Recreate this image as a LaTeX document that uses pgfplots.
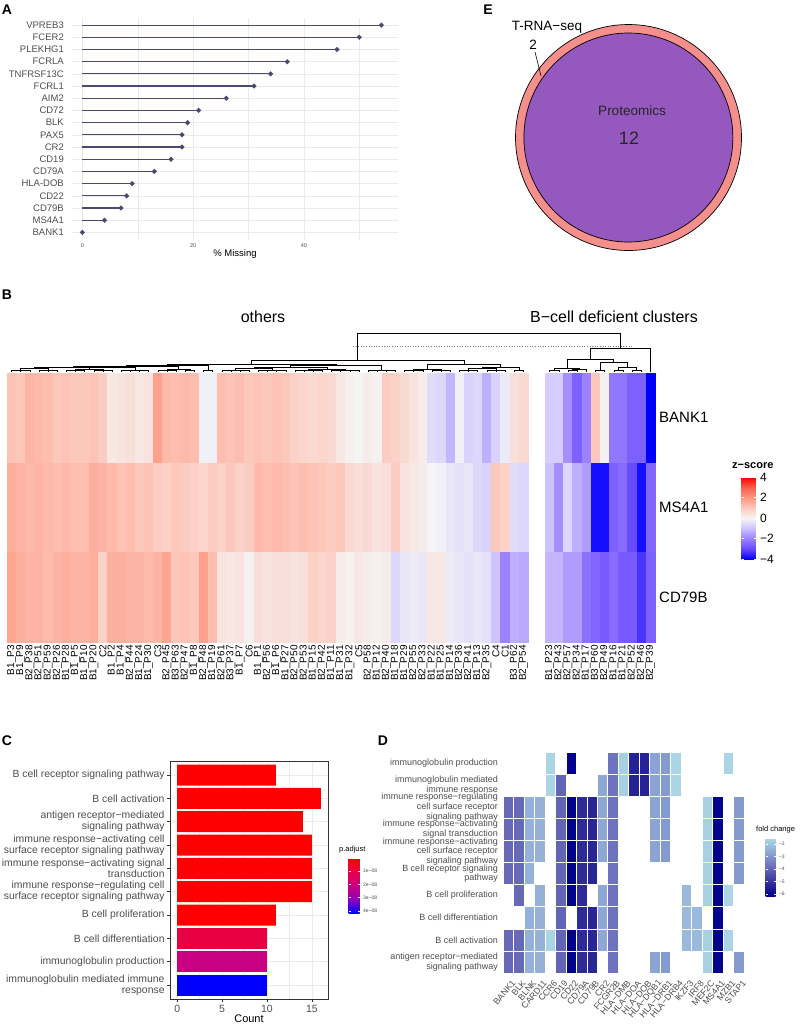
\documentclass[border=0pt]{standalone}
\usepackage{fontspec}
\setmainfont{Liberation Sans}
\usepackage{pgfplots}
\usepackage{pgfplotstable}
\pgfplotsset{compat=1.18}
\usetikzlibrary{calc}
\pgfplotsset{/pgf/number format/assume math mode=true}

\newcommand{\fs}[1]{\fontsize{#1}{#1}\selectfont}
\definecolor{lolli}{RGB}{74,74,112}
\definecolor{gridc}{RGB}{235,235,235}
\definecolor{txtg}{RGB}{77,77,77}
\definecolor{frameC}{RGB}{51,51,51}
\definecolor{vennout}{RGB}{244,143,140}
\definecolor{vennin}{RGB}{149,88,191}
\definecolor{barred}{RGB}{255,0,0}
\definecolor{barcrim}{RGB}{232,0,66}
\definecolor{barmag}{RGB}{202,0,130}
\definecolor{barblue}{RGB}{0,0,255}

\pgfdeclareplotmark{tileB}{\pgfpathrectangle{\pgfqpoint{-4.6pt}{-44.85pt}}{\pgfqpoint{9.2pt}{89.7pt}}\pgfusepathqfillstroke}
\pgfdeclareplotmark{tileD}{\pgfpathrectangle{\pgfqpoint{-5.24pt}{-11.05pt}}{\pgfqpoint{10.48pt}{22.1pt}}\pgfusepathqfillstroke}

\pgfplotstableread{
c BANK1 MS4A1 CD79B
1 1.1 1.5 1.7
2 1.0 1.4 1.5
3 1.4 1.3 1.4
4 1.3 1.4 1.4
5 1.2 1.3 1.3
6 1.0 1.2 1.4
7 1.1 1.3 1.5
8 1.0 1.2 1.4
9 1.0 1.2 1.4
10 1.1 1.5 1.5
11 0.9 1.4 0.8
12 0.3 1.3 1.5
13 0.4 1.1 1.5
14 0.5 1.2 1.4
15 0.3 1.0 1.4
16 0.4 1.1 1.3
17 1.8 0.9 1.4
18 1.3 0.8 1.7
19 1.2 1.0 1.0
20 1.3 0.9 1.1
21 1.2 0.8 1.0
22 -0.1 0.7 1.8
23 -0.1 0.9 1.2
24 1.2 0.8 0.4
25 1.1 1.0 0.3
26 1.2 0.8 0.4
27 1.0 0.9 0.1
28 1.1 1.3 0.5
29 1.0 1.2 0.4
30 1.1 1.3 0.5
31 1.0 1.2 0.5
32 0.8 1.1 0.4
33 0.7 1.2 0.5
34 0.6 1.1 0.8
35 0.7 1.0 0.7
36 0.6 0.9 0.8
37 0.3 1.0 0.2
38 0.1 0.6 0.1
39 0.0 0.5 0.3
40 0.2 0.6 0.2
41 0.1 0.4 0.1
42 0.9 0.5 0.2
43 0.8 0.9 -0.6
44 0.6 0.4 -0.3
45 0.4 0.3 -0.2
46 0.2 0.2 -0.3
47 -0.5 0.0 0.3
48 -0.6 -0.1 0.3
49 -1.2 -0.3 -0.2
50 -0.1 -0.4 -0.3
51 -0.7 -0.3 -0.4
52 -0.6 -0.6 -0.3
53 -1.3 -0.7 -0.4
54 -0.7 1.0 -1.0
55 -0.2 0.8 -2.0
56 0.5 -0.5 -1.3
57 0.6 -0.6 -1.4
}\heatL

\pgfplotstableread{
c BANK1 MS4A1 CD79B
1 -0.8 -1.0 -1.2
2 -0.8 -1.8 -1.2
3 -1.8 -0.6 -1.6
4 -2.6 -1.3 -1.6
5 -2.0 -1.6 -2.3
6 1.0 -3.8 -2.5
7 0.1 -3.8 -2.7
8 -2.2 -2.6 -2.4
9 -2.2 -2.4 -2.7
10 -2.6 -3.0 -2.7
11 -2.6 -3.8 -3.3
12 -4.0 -2.5 -2.6
}\heatR

\pgfplotsset{
  zsmap/.style={colormap={zs}{rgb255=(0,0,255) rgb255=(105,75,255) rgb255=(155,130,255) rgb255=(205,195,255) rgb255=(245,245,245) rgb255=(252,200,188) rgb255=(255,150,128) rgb255=(245,95,75) rgb255=(255,0,0)}},
  tileplot/.style={scatter, only marks, mark=tileB, point meta=explicit, mark options={line width=0.3pt},
    scatter/use mapped color={draw=mapped color, fill=mapped color}},
  overlay/.style={at={(0pt,0pt)}, anchor=north west, scale only axis, width=800pt, height=1028pt,
    xmin=0, xmax=800, ymin=0, ymax=1028, y dir=reverse, hide axis, clip=false},
}

\begin{document}
\begin{tikzpicture}
\path[use as bounding box] (0pt,0pt) rectangle (800pt,-1028pt);

%================ overlay (pixel) axis: Venn circles, dendrogram
\begin{axis}[overlay]
\addplot[only marks, mark=*, mark size=113pt, mark options={fill=vennout, draw=black, line width=0.7pt}] coordinates {(628.5,137.5)};
\addplot[only marks, mark=*, mark size=104.5pt, mark options={fill=vennin, draw=black, line width=0.7pt}] coordinates {(628.4,137.5)};
\addplot[black, line width=0.55pt, unbounded coords=jump] coordinates {
(11.6,372) (11.6,370.5) (29.9,370.5) (29.9,372) (0,nan) (20.7,372) (20.7,370.5) (0,nan)
(39.0,372) (39.0,370.5) (57.3,370.5) (57.3,372) (0,nan) (48.1,372) (48.1,370.5) (0,nan)
(66.4,372) (66.4,370.5) (84.7,370.5) (84.7,372) (0,nan) (75.5,372) (75.5,370.5) (0,nan)
(93.8,372) (93.8,370.5) (112.1,370.5) (112.1,372) (0,nan) (103.0,372) (103.0,370.5) (0,nan)
(121.2,372) (121.2,370.5) (148.7,370.5) (148.7,372) (0,nan) (130.4,372) (130.4,370.5) (0,nan) (139.5,372) (139.5,370.5) (0,nan)
(157.8,372) (157.8,370.5) (176.1,370.5) (176.1,372) (0,nan) (166.9,372) (166.9,370.5) (0,nan)
(185.2,372) (185.2,370.5) (194.4,370.5) (194.4,372) (0,nan)
(203.5,372) (203.5,370.5) (212.7,370.5) (212.7,372) (0,nan)
(221.8,372) (221.8,370.5) (249.2,370.5) (249.2,372) (0,nan) (230.9,372) (230.9,370.5) (0,nan) (240.1,372) (240.1,370.5) (0,nan)
(258.4,372) (258.4,370.5) (285.8,370.5) (285.8,372) (0,nan) (267.5,372) (267.5,370.5) (0,nan) (276.6,372) (276.6,370.5) (0,nan)
(294.9,372) (294.9,370.5) (322.3,370.5) (322.3,372) (0,nan) (304.1,372) (304.1,370.5) (0,nan) (313.2,372) (313.2,370.5) (0,nan)
(331.5,372) (331.5,370.5) (358.9,370.5) (358.9,372) (0,nan) (340.6,372) (340.6,370.5) (0,nan) (349.8,372) (349.8,370.5) (0,nan)
(368.0,372) (368.0,370.5) (395.5,370.5) (395.5,372) (0,nan) (377.2,372) (377.2,370.5) (0,nan) (386.3,372) (386.3,370.5) (0,nan)
(404.6,372) (404.6,370.5) (422.9,370.5) (422.9,372) (0,nan) (413.7,372) (413.7,370.5) (0,nan)
(432.0,372) (432.0,370.5) (450.3,370.5) (450.3,372) (0,nan) (441.2,372) (441.2,370.5) (0,nan)
(459.4,372) (459.4,370.5) (477.7,370.5) (477.7,372) (0,nan) (468.6,372) (468.6,370.5) (0,nan)
(486.9,372) (486.9,370.5) (505.1,370.5) (505.1,372) (0,nan) (496.0,372) (496.0,370.5) (0,nan)
(514.3,372) (514.3,370.5) (523.4,370.5) (523.4,372) (0,nan)
(20.75,370.5) (20.75,368.5) (48.15,368.5) (48.15,370.5) (0,nan)
(75.55,370.5) (75.55,369) (102.95,369) (102.95,370.5) (0,nan)
(166.95,370.5) (166.95,369) (189.8,369) (189.8,370.5) (0,nan)
(235.5,370.5) (235.5,368.5) (272.1,368.5) (272.1,370.5) (0,nan)
(308.6,370.5) (308.6,369) (345.2,369) (345.2,370.5) (0,nan)
(413.75,370.5) (413.75,369) (441.15,369) (441.15,370.5) (0,nan)
(468.55,370.5) (468.55,368.5) (496,368.5) (496,370.5) (0,nan)
(89.25,369) (89.25,367.5) (134.95,367.5) (134.95,370.5) (0,nan)
(34.45,368.5) (34.45,366.8) (112.1,366.8) (112.1,367.5) (0,nan)
(73.3,366.8) (73.3,366.2) (178.4,366.2) (178.4,369) (0,nan)
(125.85,366.2) (125.85,365.6) (208.1,365.6) (208.1,370.5) (0,nan)
(253.8,368.5) (253.8,367) (326.9,367) (326.9,369) (0,nan)
(290.35,367) (290.35,365.6) (381.75,365.6) (381.75,370.5) (0,nan)
(166.98,365.6) (166.98,364.5) (336.05,364.5) (336.05,365.6) (0,nan)
(482.3,368.5) (482.3,367.2) (518.85,367.2) (518.85,370.5) (0,nan)
(427.45,369) (427.45,364) (500.6,364) (500.6,367.2) (0,nan)
(251.5,364.5) (251.5,360) (464,360) (464,364) (0,nan)
(357.75,360) (357.75,333) (620.3,333) (620.3,348) (0,nan)
(549.6,372) (549.6,370.5) (558.8,370.5) (558.8,372) (0,nan)
(567.9,372) (567.9,370.5) (577.1,370.5) (577.1,372) (0,nan)
(572.5,370.5) (572.5,369.3) (586.3,369.3) (586.3,372) (0,nan)
(554.2,370.5) (554.2,367.8) (579.4,367.8) (579.4,369.3) (0,nan)
(595.4,372) (595.4,370.5) (604.6,370.5) (604.6,372) (0,nan)
(613.8,372) (613.8,369.8) (622.9,369.8) (622.9,372) (0,nan)
(632.1,372) (632.1,370.2) (641.3,370.2) (641.3,372) (0,nan)
(618.35,369.8) (618.35,367) (636.7,367) (636.7,370.2) (0,nan)
(600,370.5) (600,362) (627.5,362) (627.5,367) (0,nan)
(566.8,367.8) (566.8,359) (613.75,359) (613.75,362) (0,nan)
(590.3,359) (590.3,348) (650.4,348) (650.4,372)
};
\addplot[gray, dotted, line width=0.6pt] coordinates {(353,346) (633,346)};
\end{axis}

%================ Panel A
\begin{axis}[at={(72pt,-17.8pt)}, anchor=north west, scale only axis, width=326pt, height=221.9pt,
  xmin=-1.86, xmax=57.0, ymin=0.4, ymax=18.6,
  axis line style={draw=none}, major tick length=0pt, minor tick length=0pt,
  xtick={0,20,40}, minor xtick={10,30,50}, ytick={1,...,18},
  yticklabels={BANK1,MS4A1,CD79B,CD22,HLA-DOB,CD79A,CD19,CR2,PAX5,BLK,CD72,AIM2,FCRL1,TNFRSF13C,FCRLA,PLEKHG1,FCER2,VPREB3},
  grid=both, major grid style={gridc, line width=0.6pt}, minor grid style={gridc, line width=0.35pt},
  yticklabel style={font=\fs{9.5}, text=txtg, inner sep=0pt, xshift=-8pt},
  xticklabel style={font=\fs{5.5}, text=txtg},
  xlabel={\% Missing}, xlabel style={font=\fs{9.5}, yshift=4pt}]
\addplot[xcomb, lolli, line width=1.2pt, mark=*, mark size=1.8pt, mark options={fill=lolli}] coordinates {
(0,1) (4,2) (7,3) (8,4) (9,5) (13,6) (16,7) (18,8) (18,9) (19,10) (21,11) (26,12) (31,13) (34,14) (37,15) (46,16) (50,17) (54,18)};
\end{axis}

%================ Panel B, left block
\begin{axis}[at={(7pt,-373pt)}, anchor=north west, scale only axis, width=521pt, height=269pt,
  xmin=0.5, xmax=57.5, ymin=0.5, ymax=3.5, axis line style={draw=none}, major tick length=0pt,
  ytick=\empty, xtick={1,...,57},
  xticklabels={B1\_P3,B1\_P9,B2\_P38,B2\_P51,B2\_P59,B2\_P26,B1\_P28,B1\_P5,B1\_P10,B1\_P20,C2,B1\_P2,B1\_P4,B2\_P44,B1\_P24,B1\_P30,C3,B2\_P45,B3\_P63,B2\_P47,B1\_P8,B2\_P48,B1\_P19,B2\_P61,B3\_P37,B1\_P7,C6,B1\_P1,B2\_P56,B1\_P6,B1\_P27,B2\_P50,B2\_P53,B1\_P15,B2\_P42,B1\_P11,B1\_P31,B1\_P32,C5,B2\_P58,B1\_P12,B2\_P40,B1\_P18,B1\_P29,B2\_P55,B2\_P33,B1\_P22,B1\_P25,B1\_P14,B2\_P36,B2\_P41,B1\_P13,B2\_P35,C4,C1,B3\_P62,B2\_P54},
  xticklabel style={yshift=-3pt, rotate=90, anchor=east, inner sep=0pt, font=\fs{10}},
  zsmap, point meta min=-4, point meta max=4]
\addplot[tileplot] table[x=c, y expr=3, meta=BANK1] {\heatL};
\addplot[tileplot] table[x=c, y expr=2, meta=MS4A1] {\heatL};
\addplot[tileplot] table[x=c, y expr=1, meta=CD79B] {\heatL};
\end{axis}

%================ Panel B, right block
\begin{axis}[at={(545pt,-373pt)}, anchor=north west, scale only axis, width=110pt, height=269pt,
  xmin=0.5, xmax=12.5, ymin=0.5, ymax=3.5, axis line style={draw=none}, major tick length=0pt,
  ytick={1,2,3}, yticklabels={CD79B,MS4A1,BANK1}, yticklabel pos=right,
  yticklabel style={font=\fs{15}, anchor=west, inner sep=0pt, xshift=4pt},
  xtick={1,...,12},
  xticklabels={B1\_P23,B2\_P43,B2\_P57,B2\_P34,B1\_P17,B3\_P60,B2\_P49,B1\_P16,B1\_P21,B2\_P52,B2\_P46,B2\_P39},
  xticklabel style={yshift=-3pt, rotate=90, anchor=east, inner sep=0pt, font=\fs{10}},
  zsmap, point meta min=-4, point meta max=4,
  colorbar,
  colorbar style={at={($(parent axis.north east)+(78pt,-104pt)$)}, anchor=north west,
    width=15pt, height=82pt, ytick={-4,-2,0,2,4}, yticklabels={−4,−2,0,2,4},
    yticklabel pos=right, yticklabel style={font=\fs{12}},
    axis line style={draw=none}, tick pos=both, tick align=inside, major tick length=2.5pt,
    tick style={white, line width=0.6pt}}]
\addplot[tileplot] table[x=c, y expr=3, meta=BANK1] {\heatR};
\addplot[tileplot] table[x=c, y expr=2, meta=MS4A1] {\heatR};
\addplot[tileplot] table[x=c, y expr=1, meta=CD79B] {\heatR};
\end{axis}

%================ Panel C
\begin{axis}[at={(170pt,-761pt)}, anchor=north west, scale only axis, width=158pt, height=238pt,
  xmin=-0.8, xmax=16.8, ymin=0.4, ymax=10.6, bar width=0.9,
  axis line style={frameC, line width=0.6pt},
  xtick={0,5,10,15}, minor xtick={2.5,7.5,12.5}, ytick={1,...,10},
  grid=both, major grid style={gridc, line width=0.6pt}, minor grid style={gridc, line width=0.35pt},
  tick style={frameC, line width=0.5pt}, major tick length=2.75pt, minor tick length=0pt,
  tick align=outside, tick pos=left,
  xticklabel style={font=\fs{10.5}, text=txtg},
  yticklabel style={font=\fontsize{10.4}{11.2}\selectfont, text=txtg, align=right, inner sep=0pt, xshift=-2.5pt},
  yticklabels={{immunoglobulin mediated immune\\response},{immunoglobulin production},{B cell differentiation},{B cell proliferation},{immune response−regulating cell\\surface receptor signaling pathway},{immune response−activating signal\\transduction},{immune response−activating cell\\surface receptor signaling pathway},{antigen receptor−mediated\\signaling pathway},{B cell activation},{B cell receptor signaling pathway}},
  xlabel={Count}, xlabel style={font=\fs{11}, yshift=5pt},
  colormap={cmC}{rgb255=(255,0,0) rgb255=(232,0,72) rgb255=(200,0,128) rgb255=(145,0,185) rgb255=(0,0,255)},
  point meta min=0, point meta max=4.16,
  colorbar,
  colorbar style={at={($(parent axis.north east)+(12pt,-97pt)$)}, anchor=north west,
    width=11pt, height=55pt, y dir=reverse, ytick={1,2,3,4}, yticklabels={1e−08,2e−08,3e−08,4e−08},
    yticklabel pos=right, yticklabel style={font=\fs{5}, text=txtg},
    axis line style={draw=none}, tick pos=both, tick align=inside, major tick length=2pt,
    tick style={white, line width=0.5pt}}]
\addplot[xbar, bar shift=0pt, fill=barred, draw=none] coordinates {(11,10) (16,9) (14,8) (15,7) (15,6) (15,5) (11,4)};
\addplot[xbar, bar shift=0pt, fill=barcrim, draw=none] coordinates {(10,3)};
\addplot[xbar, bar shift=0pt, fill=barmag, draw=none] coordinates {(10,2)};
\addplot[xbar, bar shift=0pt, fill=barblue, draw=none] coordinates {(10,1)};
\end{axis}

%================ Panel D
\begin{axis}[at={(503pt,-752pt)}, anchor=north west, scale only axis, width=241pt, height=221pt,
  xmin=0.5, xmax=23.5, ymin=0.5, ymax=10.5, axis line style={draw=none}, major tick length=0pt,
  xtick={1,...,23},
  xticklabels={BANK1,BLK,BLNK,CARD11,CCR6,CD19,CD22,CD79A,CD79B,CR2,FCGR2B,HLA−DMB,HLA−DOA,HLA−DOB,HLA−DQB1,HLA−DRB1,HLA−DRB4,IKZF3,IRF8,MEF2C,MS4A1,MZB1,STAP1},
  xticklabel style={xshift=5.5pt, yshift=-8.5pt, rotate=50, anchor=east, inner sep=0pt, font=\fs{8.8}, text=txtg},
  ytick={1,...,10},
  yticklabels={{antigen receptor−mediated\\signaling pathway},{B cell activation},{B cell differentiation},{B cell proliferation},{B cell receptor signaling\\pathway},{immune response−activating\\cell surface receptor\\signaling pathway},{immune response−activating\\signal transduction},{immune response−regulating\\cell surface receptor\\signaling pathway},{immunoglobulin mediated\\immune response},{immunoglobulin production}},
  yticklabel style={align=right, font=\fontsize{9}{9.7}\selectfont, text=txtg, inner sep=0pt, xshift=-5pt},
  colormap={fc}{rgb255=(0,0,139) rgb255=(55,52,155) rgb255=(105,108,185) rgb255=(140,165,212) rgb255=(173,216,230)},
  point meta min=-6.16, point meta max=-1.52,
  colorbar,
  colorbar style={at={($(parent axis.north east)+(13pt,-86pt)$)}, anchor=north west,
    width=10pt, height=58pt, ytick={-6,-5,-4,-3,-2}, yticklabels={−6,−5,−4,−3,−2},
    yticklabel pos=right, yticklabel style={font=\fs{5}, text=txtg},
    axis line style={draw=none}, tick pos=both, tick align=inside, major tick length=2pt,
    tick style={white, line width=0.5pt}}]
\addplot[scatter, only marks, mark=tileD, point meta=explicit, mark options={line width=0.6pt},
  scatter/use mapped color={draw=white, fill=mapped color}] coordinates {
(5,10)[-1.6] (7,10)[-6.1] (11,10)[-3.7] (12,10)[-1.7] (13,10)[-5.4] (14,10)[-5.4] (15,10)[-2.7] (16,10)[-2.9] (17,10)[-1.6] (22,10)[-1.6]
(5,9)[-1.6] (6,9)[-4.0] (10,9)[-2.6] (11,9)[-3.7] (12,9)[-1.7] (13,9)[-5.4] (14,9)[-5.4] (15,9)[-2.7] (16,9)[-2.9] (17,9)[-1.6]
(1,8)[-3.9] (2,8)[-3.9] (3,8)[-2.4] (4,8)[-2.4] (6,8)[-4.0] (7,8)[-6.1] (8,8)[-5.2] (9,8)[-5.3] (10,8)[-2.6] (11,8)[-3.7] (15,8)[-2.7] (16,8)[-2.9] (20,8)[-1.7] (21,8)[-6.1] (23,8)[-2.9]
(1,7)[-3.9] (2,7)[-3.9] (3,7)[-2.4] (4,7)[-2.4] (6,7)[-4.0] (7,7)[-6.1] (8,7)[-5.2] (9,7)[-5.3] (10,7)[-2.6] (11,7)[-3.7] (15,7)[-2.7] (16,7)[-2.9] (20,7)[-1.7] (21,7)[-6.1] (23,7)[-2.9]
(1,6)[-3.9] (2,6)[-3.9] (3,6)[-2.4] (4,6)[-2.4] (6,6)[-4.0] (7,6)[-6.1] (8,6)[-5.2] (9,6)[-5.3] (10,6)[-2.6] (11,6)[-3.7] (15,6)[-2.7] (16,6)[-2.9] (20,6)[-1.7] (21,6)[-6.1] (23,6)[-2.9]
(1,5)[-3.9] (2,5)[-3.9] (3,5)[-2.4] (6,5)[-4.0] (7,5)[-6.1] (8,5)[-5.2] (9,5)[-5.3] (11,5)[-3.7] (20,5)[-1.7] (21,5)[-6.1] (23,5)[-2.9]
(2,4)[-3.9] (4,4)[-2.4] (6,4)[-4.0] (7,4)[-6.1] (8,4)[-5.2] (10,4)[-2.6] (11,4)[-3.7] (18,4)[-2.2] (20,4)[-1.7] (21,4)[-6.1] (22,4)[-1.6]
(3,3)[-2.4] (4,3)[-2.4] (6,3)[-4.0] (8,3)[-5.2] (9,3)[-5.3] (10,3)[-2.6] (11,3)[-3.7] (18,3)[-2.2] (19,3)[-2.2] (21,3)[-6.1]
(1,2)[-3.9] (2,2)[-3.9] (3,2)[-2.4] (4,2)[-2.4] (5,2)[-1.6] (6,2)[-4.0] (7,2)[-6.1] (8,2)[-5.2] (9,2)[-5.3] (10,2)[-2.6] (11,2)[-3.7] (18,2)[-2.2] (19,2)[-2.2] (20,2)[-1.7] (21,2)[-6.1] (22,2)[-1.6]
(1,1)[-3.9] (2,1)[-3.9] (3,1)[-2.4] (4,1)[-2.4] (6,1)[-4.0] (7,1)[-6.1] (8,1)[-5.2] (9,1)[-5.3] (11,1)[-3.7] (15,1)[-2.7] (16,1)[-2.9] (20,1)[-1.7] (21,1)[-6.1] (23,1)[-2.9]
};
\end{axis}

%================ overlay text axis (drawn last so texts sit on top)
\begin{axis}[overlay]
\addplot[black, line width=0.6pt] coordinates {(535,52) (541,76)};
\node[font=\fs{13.5}, inner sep=1pt] at (axis cs:547,27) {T-RNA−seq};
\node[font=\fs{13.5}, inner sep=1pt] at (axis cs:533,45) {2};
\node[font=\fs{13.5}, text=black!85] at (axis cs:632,111) {Proteomics};
\node[font=\fs{18}, text=black!85] at (axis cs:629,138) {12};
\node[font=\fs{14}\bfseries] at (axis cs:7,10) {A};
\node[font=\fs{14}\bfseries] at (axis cs:488,10) {E};
\node[font=\fs{14}\bfseries] at (axis cs:7,295) {B};
\node[font=\fs{14}\bfseries] at (axis cs:7,741) {C};
\node[font=\fs{14}\bfseries] at (axis cs:383,741) {D};
\node[font=\fs{16}] at (axis cs:263,317) {others};
\node[font=\fs{16}] at (axis cs:614,317) {B−cell deficient clusters};
\node[font=\fs{11}\bfseries, anchor=west, inner sep=0pt] at (axis cs:732,466) {z−score};
\node[font=\fs{7.5}, anchor=west, inner sep=0pt] at (axis cs:339,850) {p.adjust};
\node[font=\fs{7.5}, anchor=west, inner sep=0pt] at (axis cs:756,830) {fold change};
\end{axis}
\end{tikzpicture}
\end{document}
